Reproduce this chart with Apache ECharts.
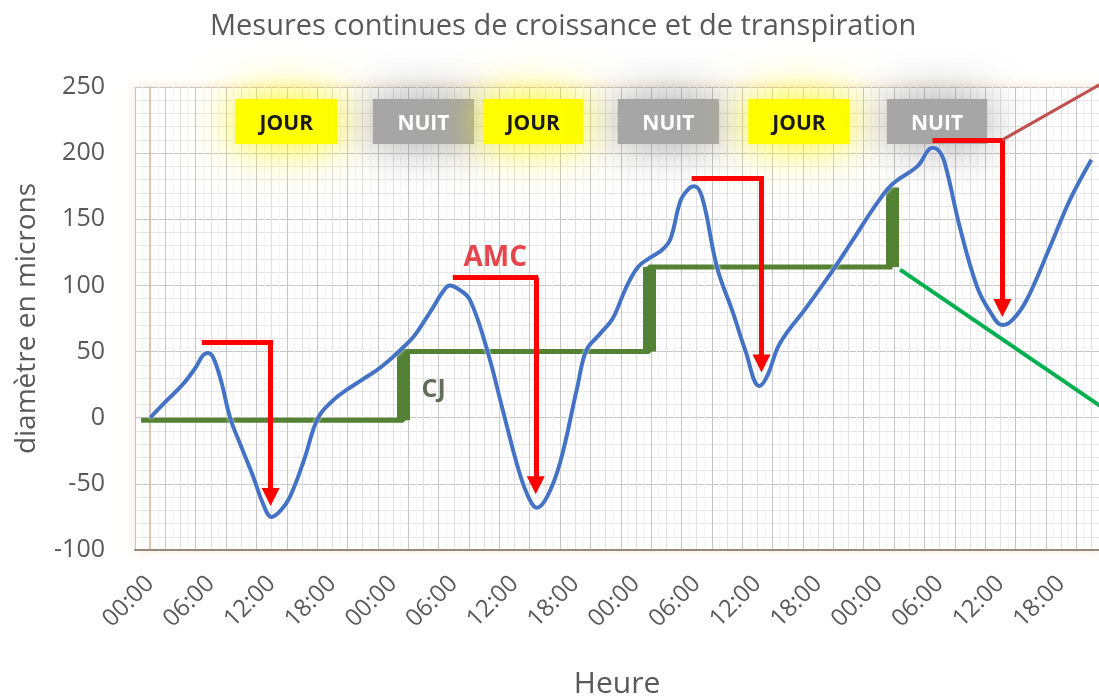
<!DOCTYPE html>
<html><head><meta charset="utf-8">
<script src="https://cdn.jsdelivr.net/npm/echarts@6/dist/echarts.min.js"></script>
<style>html,body{margin:0;padding:0;background:#fff}#c{width:1099px;height:696px}</style>
</head><body><div id="c"></div>
<script>
// ---- data (hours since start, diameter in microns) ----
const diametre = [[0,0],[1.5,12],[3.2,25],[4.5,38],[5.2,47],[5.7,49],[6.2,46],[7,28],[7.9,0],[9,-22],[10.2,-45],[11.2,-66],[12,-75],[12.9,-70],[13.8,-60],[15.2,-32],[16.6,0],[18.2,14],[19.4,21],[21,29],[22.4,36],[23.7,44],[24.7,51],[26,61],[27,72],[28,84],[28.9,95],[29.6,100],[30.5,97],[31.6,89],[33.3,51],[34.9,4],[36.5,-42],[37.5,-62],[38.2,-68],[39.2,-60],[40.5,-34],[42.2,23],[43.1,51],[44.4,63],[45.7,75],[47,98],[48.2,114],[49.4,121],[50.6,127],[51.4,135],[52.4,164],[53.2,173],[53.8,175],[54.6,165],[56,114],[57.6,79],[58.8,51],[60.2,24],[61,32],[62.2,56],[64.9,84],[67.5,112],[69.4,134],[71.8,162],[73.4,177],[75.8,190],[77.3,204],[78.1,200],[78.7,187],[80,144],[81.7,99],[83,80],[84.2,70],[85.2,74],[86.6,89],[88.9,129],[90.9,165],[93,195]];
const cjStart = -0.9;
const cjDays = [25, 49.3, 73.35];
const cjLevels = [-2, 50, 114, 174];
// AMC brackets: [start hour, level, drop hour, tip value]
const amcBrackets = [[5.1,57,11.9,-67],[29.9,106,38.1,-58],[53.5,181,60.4,34],[77.3,210,84.2,76]];
const redPointer = [[84.2,210],[95.7,260]];
const greenPointer = [[74.1,112],[95.7,-0.6]];
const periods = [['JOUR',8.4,18.5],['NUIT',22.0,32.0],['JOUR',32.9,42.8],['NUIT',46.2,56.2],['JOUR',59.1,69.1],['NUIT',72.8,82.7]];
const periodTop = 241, periodBottom = 207;
const textMarks = [['AMC',34.1,121],['CJ',28.0,21]];
const yTicks = {min:-100, max:250, step:50};
const xRange = {min:-1.5, max:93.75, step:1.5};

const FONT = 'Open Sans';
const chart = echarts.init(document.getElementById('c'), null, {renderer:'canvas'});

function hourLabel(v){
  const k = v/6;
  if (v < 0 || Math.abs(k - Math.round(k)) > 1e-6) return '';
  const h = Math.round(v) % 24;
  return (h < 10 ? '0' : '') + h + ':00';
}

const stepData = [[cjStart, cjLevels[0]]];
cjDays.forEach((d,i)=>{ stepData.push([d, cjLevels[i+1]]); });
stepData[stepData.length-1] = [cjDays[2], cjLevels[2]];

const areaData = periods.map(p=>{
  const day = p[0]==='JOUR';
  return [{
    name:p[0], coord:[p[1], periodTop],
    itemStyle: day ? {color:'#ffff00', shadowBlur:45, shadowColor:'rgba(255,245,0,0.95)'} :
                     {color:'#a6a6a6', shadowBlur:45, shadowColor:'rgba(100,100,100,0.6)'},
    label:{show:true, position:'inside', color: day ? '#1a1a1a' : '#ffffff', fontWeight:'bold', fontSize:21, fontFamily:FONT, offset:[0,3]}
  },{coord:[p[2], periodBottom]}];
});

chart.setOption({
  animation:false,
  backgroundColor:'#ffffff',
  title:{text:'Mesures continues de croissance et de transpiration', left:205, top:7,
    textStyle:{fontFamily:FONT, fontSize:29, fontWeight:'normal', color:'#595959'}},
  grid:{left:135, right:0, top:87, bottom:146, outerBoundsMode:'none', containLabel:false,
    show:true, borderWidth:0, backgroundColor:'#ffffff',
    shadowBlur:10, shadowColor:'rgba(240,190,140,0.45)'},
  xAxis:{type:'value', min:xRange.min, max:xRange.max, interval:xRange.step,
    name:'Heure', nameLocation:'middle', nameGap:119,
    nameTextStyle:{fontFamily:FONT, fontSize:30, color:'#595959'},
    axisLine:{show:true, onZero:false, lineStyle:{color:'#9a8878', width:2}},
    axisTick:{show:false},
    axisLabel:{rotate:45, margin:30, fontSize:24, color:'#595959', fontFamily:FONT, formatter:hourLabel},
    splitLine:{show:true, lineStyle:{color:['#c6c6c6','#e0e0e0'], width:1}},
    minorTick:{show:false, splitNumber:2},
    minorSplitLine:{show:true, lineStyle:{color:'#f3f3f3', width:1}}
  },
  yAxis:{type:'value', min:yTicks.min, max:yTicks.max, interval:yTicks.step,
    name:'diamètre en microns', nameLocation:'middle', nameGap:94,
    nameTextStyle:{fontFamily:FONT, fontSize:28, color:'#595959'},
    axisLine:{show:true, lineStyle:{color:'#d8b898', width:1.5}},
    axisTick:{show:false},
    axisLabel:{margin:30, fontSize:25, color:'#595959', fontFamily:FONT},
    splitLine:{show:true, lineStyle:{color:'#c6c6c6', width:1}},
    minorTick:{show:false, splitNumber:5},
    minorSplitLine:{show:true, lineStyle:{color:'#e6e6e6', width:1}}
  },
  series:[
    {type:'line', data:[], clip:false, silent:true, z:1,
      markArea:{silent:true, data:areaData}},
    {type:'line', name:'CJ', data:stepData, step:'end', symbol:'none', z:2,
      lineStyle:{color:'#548235', width:5}},
    {type:'lines', coordinateSystem:'cartesian2d', z:3, symbol:'none',
      lineStyle:{color:'#548235', width:13, opacity:1},
      data: cjDays.map((d,i)=>({coords:[[d, cjLevels[i]],[d, cjLevels[i+1]]]}))},
    {type:'line', name:'diamètre', data:diametre, smooth:0.4, symbol:'none', z:4,
      lineStyle:{color:'#4472c4', width:4, shadowBlur:3, shadowColor:'rgba(255,255,255,0.9)'}},
    {type:'lines', coordinateSystem:'cartesian2d', z:5, symbol:'none',
      lineStyle:{color:'#ff0000', width:5, opacity:1},
      data: amcBrackets.map(b=>({coords:[[b[0], b[1]],[b[2]+0.25, b[1]]]}))},
    {type:'lines', coordinateSystem:'cartesian2d', z:5, symbol:['none','triangle'], symbolSize:[1,18],
      lineStyle:{color:'#ff0000', width:5, opacity:1},
      data: amcBrackets.map(b=>({coords:[[b[2], b[1]],[b[2], b[3]+7]]}))},
    {type:'lines', coordinateSystem:'cartesian2d', z:5, symbol:'none', clip:false,
      lineStyle:{color:'#c0504d', width:3, opacity:1}, data:[{coords:redPointer}]},
    {type:'lines', coordinateSystem:'cartesian2d', z:5, symbol:'none', clip:false,
      lineStyle:{color:'#00b050', width:4, opacity:1}, data:[{coords:greenPointer}]},
    {type:'scatter', symbolSize:0, z:6, silent:true,
      data: textMarks.map(t=>({name:t[0], value:[t[1], t[2]],
        label:{color: t[0]==='AMC' ? '#e0191f' : '#3b4a2f', fontSize: t[0]==='AMC' ? 28 : 25}})),
      label:{show:true, position:'inside', formatter:'{b}', fontFamily:FONT, fontWeight:'bold'}
    }
  ]
});
</script>
</body></html>
